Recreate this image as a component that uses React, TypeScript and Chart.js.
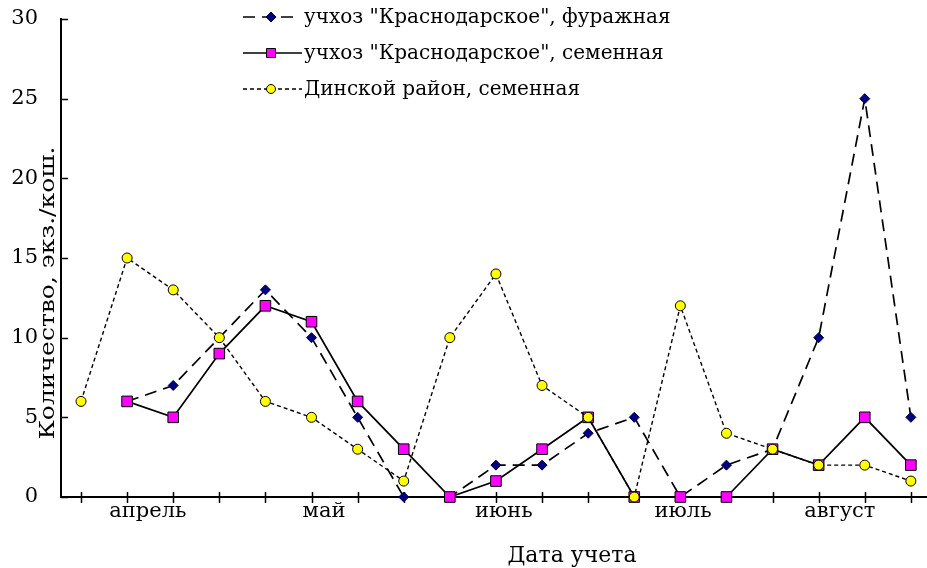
import React, { useEffect, useRef } from 'react';
import { Chart, registerables } from 'chart.js';

Chart.register(...registerables);

// survey (sampling) numbers along the x axis
const surveyNo = [0, 1, 2, 3, 4, 5, 6, 7, 8, 9, 10, 11, 12, 13, 14, 15, 16, 17, 18];
// month captions and their positions on the survey axis
const monthLabels = ['апрель', 'май', 'июнь', 'июль', 'август'];
const monthPos = [1.45, 5.27, 9.17, 13.06, 16.46];

const seriesNames = [
  'учхоз "Краснодарское", фуражная',
  'учхоз "Краснодарское", семенная',
  'Динской район, семенная',
];
const furazh: (number | null)[] = [null, 6, 7, 10, 13, 10, 5, 0, 0, 2, 2, 4, 5, 0, 2, 3, 10, 25, 5];
const semen: (number | null)[] = [null, 6, 5, 9, 12, 11, 6, 3, 0, 1, 3, 5, 0, 0, 0, 3, 2, 5, 2];
const dinskoy: (number | null)[] = [6, 15, 13, 10, 6, 5, 3, 1, 10, 14, 7, 5, 0, 12, 4, 3, 2, 2, 1];

const yTitle = 'Количество, экз./кош.';
const xTitle = 'Дата учета';

const FONT = '"DejaVu Serif", serif';

const toPoints = (arr: (number | null)[]) =>
  surveyNo.map((x, i) => ({ x, y: arr[i] })).filter((p) => p.y !== null);

const decor = {
  id: 'decor',
  beforeDatasetsDraw(chart: any) {
    const ctx = chart.ctx;
    const xs = chart.scales.x;
    const ys = chart.scales.y;
    ctx.save();
    ctx.strokeStyle = '#000';
    ctx.lineWidth = 1.5;
    ctx.setLineDash([]);
    const y0 = ys.getPixelForValue(0);
    surveyNo.forEach((v) => {
      const px = Math.round(xs.getPixelForValue(v)) + 0.5;
      ctx.beginPath();
      ctx.moveTo(px, y0 - 5);
      ctx.lineTo(px, y0 + 6);
      ctx.stroke();
    });
    const x0 = xs.left;
    ys.ticks.forEach((t: any) => {
      const py = Math.round(ys.getPixelForValue(t.value)) + 0.5;
      ctx.beginPath();
      ctx.moveTo(x0, py);
      ctx.lineTo(x0 + 7, py);
      ctx.stroke();
    });
    ctx.restore();
  },
  afterDraw(chart: any) {
    const ctx = chart.ctx;
    ctx.save();
    // legend
    ctx.font = '20px ' + FONT;
    ctx.textBaseline = 'middle';
    ctx.textAlign = 'left';
    chart.data.datasets.forEach((ds: any, i: number) => {
      const y = 17 + 36 * i;
      ctx.strokeStyle = '#000';
      ctx.lineWidth = 1.6;
      ctx.setLineDash(ds.borderDash || []);
      ctx.beginPath();
      ctx.moveTo(243, y);
      ctx.lineTo(ds.borderDash && ds.borderDash[0] > 8 ? 299 : 302, y);
      ctx.stroke();
      ctx.setLineDash([]);
      ctx.lineWidth = 1;
      ctx.fillStyle = ds.pointBackgroundColor;
      ctx.strokeStyle = ds.pointBorderColor;
      const cx = 271;
      ctx.beginPath();
      if (ds.pointStyle === 'rectRot') {
        ctx.moveTo(cx, y - 5);
        ctx.lineTo(cx + 5, y);
        ctx.lineTo(cx, y + 5);
        ctx.lineTo(cx - 5, y);
        ctx.closePath();
      } else if (ds.pointStyle === 'rect') {
        ctx.rect(cx - 4.5, y - 4.5, 9, 9);
      } else {
        ctx.arc(cx, y, 4.5, 0, Math.PI * 2);
      }
      ctx.fill();
      ctx.stroke();
      ctx.fillStyle = '#000';
      ctx.fillText(seriesNames[i], 304, y + 1);
    });
    // y title (rotated)
    ctx.font = '20px ' + FONT;
    const w = ctx.measureText(yTitle).width;
    ctx.translate(54, 293);
    ctx.rotate(-Math.PI / 2);
    ctx.scale(293 / w, 1);
    ctx.textAlign = 'center';
    ctx.textBaseline = 'alphabetic';
    ctx.fillStyle = '#000';
    ctx.fillText(yTitle, 0, 0);
    ctx.restore();
    // x title
    ctx.save();
    ctx.font = '22px ' + FONT;
    ctx.textAlign = 'center';
    ctx.textBaseline = 'alphabetic';
    ctx.fillStyle = '#000';
    ctx.fillText(xTitle, 572, 562);
    ctx.restore();
  },
};

export default function App() {
  const ref = useRef<HTMLCanvasElement | null>(null);
  useEffect(() => {
    if (!ref.current) return;
    const chart = new Chart(ref.current, {
      type: 'line',
      data: {
        datasets: [
          {
            label: seriesNames[0],
            data: toPoints(furazh),
            borderColor: '#000',
            borderWidth: 1.7,
            borderDash: [12, 7],
            pointStyle: 'rectRot',
            pointRadius: 5,
            pointBackgroundColor: '#000080',
            pointBorderColor: '#00003a',
            pointBorderWidth: 1,
            order: 3,
            clip: false,
          },
          {
            label: seriesNames[1],
            data: toPoints(semen),
            borderColor: '#000',
            borderWidth: 1.7,
            pointStyle: 'rect',
            pointRadius: 7.5,
            pointBackgroundColor: '#ff00ff',
            pointBorderColor: '#000',
            pointBorderWidth: 1,
            order: 2,
            clip: false,
          },
          {
            label: seriesNames[2],
            data: toPoints(dinskoy),
            borderColor: '#000',
            borderWidth: 1.4,
            borderDash: [4, 3],
            pointStyle: 'circle',
            pointRadius: 5,
            pointBackgroundColor: '#ffff00',
            pointBorderColor: '#000',
            pointBorderWidth: 1,
            order: 1,
            clip: false,
          },
        ] as any,
      },
      options: {
        animation: false,
        responsive: false,
        events: [],
        layout: { autoPadding: false, padding: { top: 19, left: 0, right: 0, bottom: 0 } },
        plugins: {
          legend: { display: false },
          tooltip: { enabled: false },
          title: { display: false },
        },
        scales: {
          x: {
            type: 'linear',
            min: -0.434,
            max: 18.35,
            afterBuildTicks: (s: any) => {
              s.ticks = monthPos.map((v) => ({ value: v }));
            },
            afterFit: (s: any) => {
              s.height = 71;
              s.paddingLeft = 0;
              s.paddingRight = 0;
            },
            ticks: {
              autoSkip: false,
              maxRotation: 0,
              minRotation: 0,
              padding: 2,
              color: '#000',
              font: { family: FONT, size: 21 },
              callback: (_v: any, i: number) => monthLabels[i],
            },
            grid: { display: false, drawTicks: false },
            border: { display: true, color: '#000', width: 2 },
          },
          y: {
            type: 'linear',
            min: 0,
            max: 30,
            afterFit: (s: any) => {
              s.width = 61;
              s.paddingTop = 0;
              s.paddingBottom = 0;
            },
            ticks: {
              stepSize: 5,
              padding: 23,
              color: '#000',
              font: { family: FONT, size: 21 },
            },
            grid: { display: false, drawTicks: false },
            border: { display: true, color: '#000', width: 2 },
          },
        },
      } as any,
      plugins: [decor],
    });
    return () => chart.destroy();
  }, []);
  return (
    <div style={{ position: 'fixed', left: 0, top: 0, width: 927, height: 568, background: '#fff' }}>
      <canvas ref={ref} width={927} height={568} style={{ display: 'block' }} />
    </div>
  );
}
